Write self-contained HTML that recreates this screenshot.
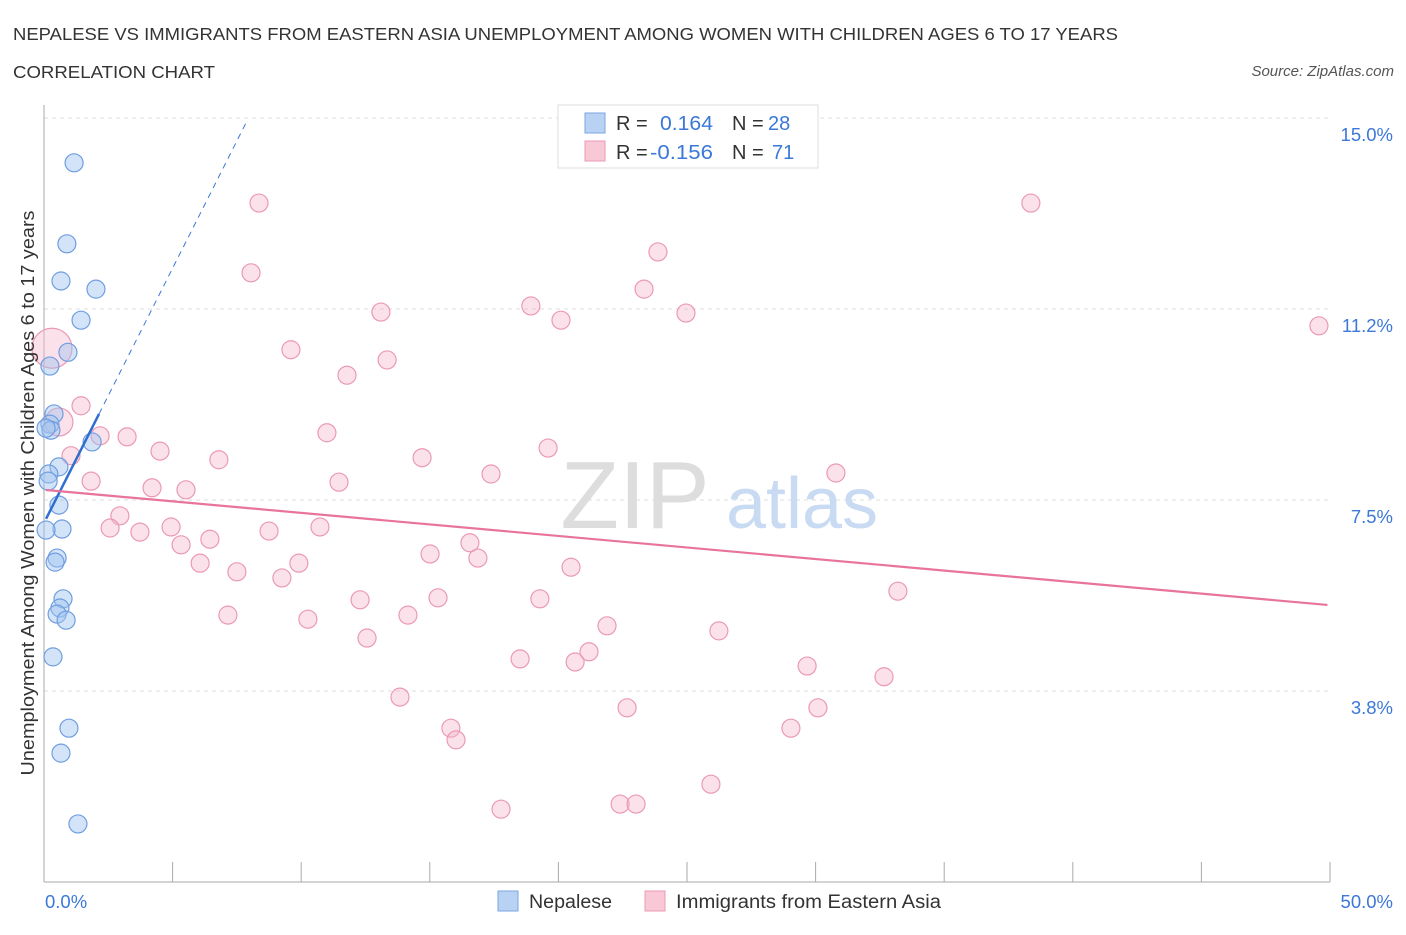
<!DOCTYPE html>
<html><head><meta charset="utf-8"><style>
body{margin:0;background:#fff;font-family:"Liberation Sans",sans-serif;}
svg text{font-family:"Liberation Sans",sans-serif;}
</style></head><body>
<svg id="chart" width="1406" height="930">
<text x="13" y="40" font-size="17.5" fill="#333" textLength="1105" lengthAdjust="spacingAndGlyphs">NEPALESE VS IMMIGRANTS FROM EASTERN ASIA UNEMPLOYMENT AMONG WOMEN WITH CHILDREN AGES 6 TO 17 YEARS</text>
<text x="13" y="78" font-size="17.5" fill="#333" textLength="202" lengthAdjust="spacingAndGlyphs">CORRELATION CHART</text>
<text x="1394" y="76" font-size="15" fill="#555" text-anchor="end" font-style="italic">Source: ZipAtlas.com</text>
<g id="grid"></g>
<text x="635" y="528" font-size="96" fill="#ddd" font-family="Liberation Serif" text-anchor="middle">ZIP</text>
<text x="802" y="528" font-size="72" fill="#c9dbf2" text-anchor="middle">atlas</text>
<g id="marks"></g>
<text transform="translate(34,493) rotate(-90)" font-size="18" fill="#333" text-anchor="middle" textLength="565" lengthAdjust="spacingAndGlyphs">Unemployment Among Women with Children Ages 6 to 17 years</text>
<g>
<rect x="558" y="105" width="260" height="63" fill="#fff" stroke="#ddd"/>
<rect x="585" y="113" width="20" height="20" fill="#b8d2f4" stroke="#7aa6e0"/>
<rect x="585" y="141" width="20" height="20" fill="#f9c8d6" stroke="#eb9ab3"/>
<text x="616" y="130" font-size="20" fill="#333">R =</text>
<text x="660" y="130" font-size="20" fill="#3b78d8" textLength="53" lengthAdjust="spacingAndGlyphs">0.164</text>
<text x="732" y="130" font-size="20" fill="#333">N =</text>
<text x="768" y="130" font-size="20" fill="#3b78d8">28</text>
<text x="616" y="159" font-size="20" fill="#333">R =</text>
<text x="650" y="159" font-size="20" fill="#3b78d8" textLength="63" lengthAdjust="spacingAndGlyphs">-0.156</text>
<text x="732" y="159" font-size="20" fill="#333">N =</text>
<text x="772" y="159" font-size="20" fill="#3b78d8">71</text>
</g>
<g>
<rect x="498" y="891" width="20" height="20" fill="#b8d2f4" stroke="#7aa6e0"/>
<text x="529" y="908" font-size="19" fill="#333" textLength="83" lengthAdjust="spacingAndGlyphs">Nepalese</text>
<rect x="645" y="891" width="20" height="20" fill="#f9c8d6" stroke="#eb9ab3"/>
<text x="676" y="908" font-size="19" fill="#333" textLength="265" lengthAdjust="spacingAndGlyphs">Immigrants from Eastern Asia</text>
</g>
</svg>
<script>
const yTicks=[3.75,7.5,11.25,15];
const yTickLabels=["3.8%","7.5%","11.2%","15.0%"];
const xTickLabels=["0.0%","50.0%"];
const blueX=[1.17,0.89,0.66,2.02,1.44,0.93,0.23,0.39,0.23,0.27,0.08,1.87,0.58,0.19,0.16,0.58,0.70,0.08,0.51,0.43,0.74,0.62,0.51,0.86,0.35,0.97,0.66,1.32];
const blueY=[14.12,12.53,11.80,11.64,11.03,10.40,10.13,9.19,8.99,8.87,8.91,8.64,8.15,8.01,7.87,7.40,6.93,6.91,6.36,6.28,5.56,5.38,5.26,5.14,4.42,3.02,2.53,1.14];
const pinkX=[0.31,0.58,1.44,1.05,1.83,3.23,2.18,4.51,6.80,4.20,5.52,2.95,2.57,3.73,4.94,5.33,6.45,6.07,7.50,8.75,9.25,9.91,10.73,10.26,7.15,8.36,8.05,9.60,11.78,11.00,11.47,13.10,13.34,12.29,12.56,13.84,14.15,14.70,15.01,15.32,15.82,16.02,16.56,16.87,17.38,17.77,18.51,18.93,19.28,19.60,20.10,20.49,20.65,21.19,21.89,22.40,23.02,22.67,23.33,23.87,24.96,25.93,26.24,29.04,29.67,30.09,30.79,32.66,33.20,38.37,49.57];
const pinkY=[10.48,9.03,9.35,8.37,7.87,8.74,8.76,8.46,8.29,7.74,7.70,7.19,6.95,6.87,6.97,6.62,6.73,6.26,6.09,6.89,5.97,6.26,6.97,5.16,5.24,13.33,11.96,10.45,9.95,8.82,7.85,11.19,10.25,5.54,4.79,3.63,5.24,8.33,6.44,5.58,3.02,2.79,6.66,6.36,8.01,1.43,4.38,11.31,5.56,8.52,11.03,6.18,4.32,4.52,5.03,1.53,1.53,3.42,11.64,12.37,11.17,1.92,4.93,3.02,4.24,3.42,8.03,4.03,5.71,13.33,10.92];
const pinkR=[20,14];
const blueTrend=[7.05,1.0];
const pinkTrend=[7.70,-0.0453];
const NS="http://www.w3.org/2000/svg";
const X=v=>44+v/50*1286, Y=v=>882-v/15*764;
function mk(t,a,p){const e=document.createElementNS(NS,t);for(const k in a)e.setAttribute(k,a[k]);p.appendChild(e);return e;}
const grid=document.getElementById('grid'), marks=document.getElementById('marks');
yTicks.forEach((t,i)=>{
 const l=mk('line',{x1:44,x2:1330,y1:Y(t),y2:Y(t),stroke:'#ddd','stroke-dasharray':'4,4'},grid);
 
 
 const tx=mk('text',{x:1393,y:Y(t)+23,'font-size':18.5,fill:'#3b78d8','text-anchor':'end'},grid);
 tx.textContent=yTickLabels[i];
 
 
});
const ax=mk('line',{x1:44,x2:1330,y1:882,y2:882,stroke:'#aaa'},grid);


const ay=mk('line',{x1:44,x2:44,y1:105,y2:882,stroke:'#aaa'},grid);


for(let i=0;i<=10;i++){const t=mk('line',{x1:X(i*5),x2:X(i*5),y1:862,y2:882,stroke:'#aaa'},grid);
 
 }
[[0,'start',45],[50,'end',1393]].forEach((d,i)=>{const t=mk('text',{x:d[2],y:908,'font-size':18.5,fill:'#3b78d8','text-anchor':d[1]},grid);
 t.textContent=xTickLabels[i];
 
 });
pinkX.forEach((x,i)=>{const r=i<2?pinkR[i]:9;
 const c=mk('circle',{cx:X(x),cy:Y(pinkY[i]),r:r,fill:'rgba(246,180,200,0.4)',stroke:'#eb9ab3','stroke-width':1.2},marks);
 
 });
blueX.forEach((x,i)=>{
 const c=mk('circle',{cx:X(x),cy:Y(blueY[i]),r:9,fill:'rgba(160,196,240,0.45)',stroke:'#6f9ee0','stroke-width':1.2},marks);
 
 });
const bt=x=>blueTrend[0]+blueTrend[1]*x, pt=x=>pinkTrend[0]+pinkTrend[1]*x;
let l=mk('line',{x1:X(2.14),y1:Y(bt(2.14)),x2:X(7.9),y2:Y(bt(7.9)),stroke:'#3b78d8','stroke-width':1,'stroke-dasharray':'6,5'},marks);


l=mk('line',{x1:X(0.08),y1:Y(bt(0.08)),x2:X(2.14),y2:Y(bt(2.14)),stroke:'#2f6fd0','stroke-width':2.5},marks);


l=mk('line',{x1:X(0.08),y1:Y(pt(0.08)),x2:X(49.9),y2:Y(pt(49.9)),stroke:'#e8739b','stroke-width':2.2},marks);


</script>
</body></html>
